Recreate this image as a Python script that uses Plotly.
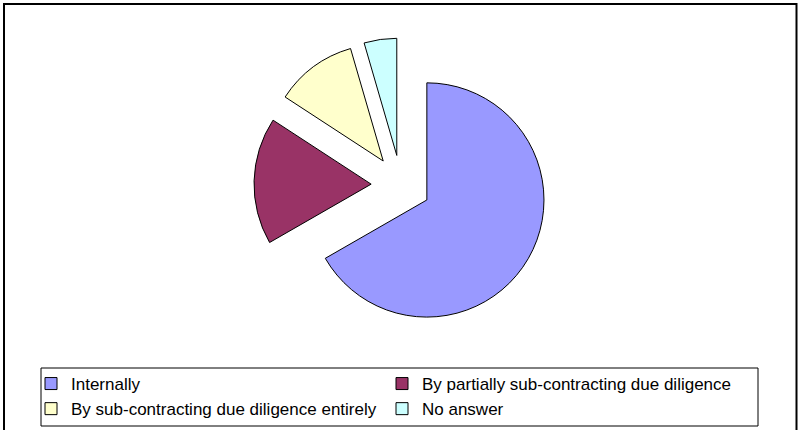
import plotly.graph_objects as go

labels = [
    "Internally",
    "By partially sub-contracting due diligence",
    "By sub-contracting due diligence entirely",
    "No answer",
]
values = [66.7, 17.5, 11.3, 4.5]
colors = ["#9999FF", "#993366", "#FFFFCC", "#CCFFFF"]

W, H = 799, 430

fig = go.Figure(
    go.Pie(
        labels=labels,
        values=values,
        sort=False,
        direction="clockwise",
        rotation=0,
        pull=0.255,
        marker=dict(colors=colors, line=dict(color="#000000", width=1)),
        textinfo="none",
        hoverinfo="label+percent",
        domain=dict(x=[254 / W, 548 / W], y=[1 - 332 / H, 1 - 38 / H]),
    )
)

fig.update_layout(
    width=W,
    height=H,
    margin=dict(l=0, r=0, t=0, b=0),
    paper_bgcolor="white",
    plot_bgcolor="white",
    showlegend=True,
    legend=dict(
        orientation="h",
        x=31 / W,
        y=1 - 366 / H,
        xanchor="left",
        yanchor="top",
        borderwidth=0,
        bgcolor="rgba(0,0,0,0)",
        font=dict(family="Liberation Sans, Arial, sans-serif", size=17, color="#000000"),
        entrywidth=306,
        entrywidthmode="pixels",
        itemwidth=30,
        traceorder="normal",
    ),
    shapes=[
        # outer chart frame
        dict(
            type="rect", xref="paper", yref="paper",
            x0=4 / W, x1=796.5 / W, y0=1 - 433 / H, y1=1 - 4 / H,
            line=dict(color="#000000", width=2),
            fillcolor="rgba(0,0,0,0)", layer="below",
        ),
        # legend frame
        dict(
            type="rect", xref="paper", yref="paper",
            x0=41 / W, x1=758 / W, y0=1 - 426 / H, y1=1 - 368 / H,
            line=dict(color="#000000", width=1),
            fillcolor="rgba(0,0,0,0)", layer="below",
        ),
    ],
)

fig.write_html("out.html")
